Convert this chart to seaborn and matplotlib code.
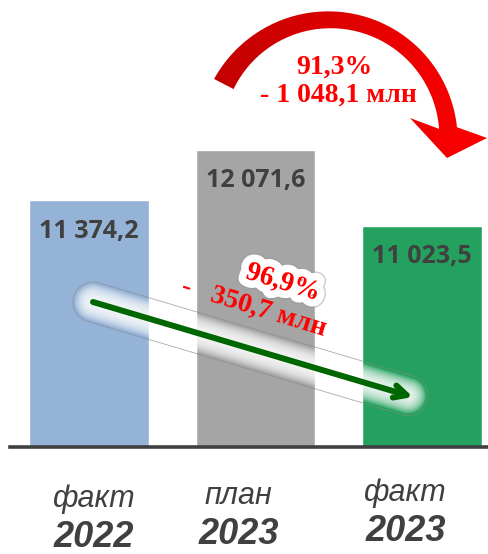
import numpy as np
import pandas as pd
import seaborn as sns
import matplotlib.pyplot as plt
import matplotlib.patheffects as pe
from matplotlib.patches import Polygon
from matplotlib.colors import LinearSegmentedColormap

# данные
labels_top = ['факт', 'план', 'факт']
labels_year = ['2022', '2023', '2023']
values = [11374.2, 12071.6, 11023.5]
colors = ['#95B3D7', '#A5A5A5', '#24A15E']


def ru(v):
    # 1048.1 -> "1 048,1"
    return f"{v:,.1f}".replace(",", " ").replace(".", ",")


df = pd.DataFrame({'cat': ['f22', 'p23', 'f23'], 'val': values})

sns.set_style("white")

fig = plt.figure(figsize=(4.88, 5.54), dpi=100)
ax = fig.add_axes([10 / 488, 107 / 554, 478 / 488, 447 / 554])

sns.barplot(data=df, x='cat', y='val', hue='cat', palette=colors,
            width=0.72, legend=False, ax=ax, saturation=1)

ax.set_ylim(8000, 14118)
ax.set_xlim(-0.474, 2.396)
ax.set_xticks([])
ax.set_yticks([])
ax.set_xlabel('')
ax.set_ylabel('')
sns.despine(ax=ax, left=True)
ax.spines['bottom'].set_color('#404040')
ax.spines['bottom'].set_linewidth(2.6)

# подписи значений внутри столбцов
for i, v in enumerate(values):
    ax.annotate(ru(v), xy=(i, v), xytext=(0, -22), textcoords='offset points',
                ha='center', va='center', fontsize=18, fontweight='bold',
                family='Open Sans', color='#404040')

# подписи категорий
offs = [0.03, -0.1, -0.1]
ys = [0.0, 0.006, 0.012]
for i in range(3):
    ax.text(i + offs[i], -0.116 + ys[i], labels_top[i], transform=ax.get_xaxis_transform(),
            ha='center', va='center', fontsize=22, style='italic',
            family='Liberation Sans', color='#404040')
    ax.text(i + offs[i], -0.202 + ys[i], labels_year[i], transform=ax.get_xaxis_transform(),
            ha='center', va='center', fontsize=26, style='italic', fontweight='bold',
            family='Liberation Sans', color='#404040')

# слой для стрелок (пиксели)
ov = fig.add_axes([0, 0, 1, 1], zorder=5)
ov.axis('off')

# зелёная стрелка с подсветкой
x0, y0, x1, y1 = 93, 302, 413, 397
for lw in np.linspace(26, 6, 14):
    ov.plot([x0, x1 - 5], [y0, y1 - 1.5], color='white', lw=lw, alpha=0.14,
            solid_capstyle='round')
# тонкий контур подсветки
d = np.array([x1 - 5 - x0, y1 - 1.5 - y0])
d = d / np.hypot(*d)
ang0 = np.arctan2(d[1], d[0])
R = 20
a1 = np.linspace(ang0 + np.pi / 2, ang0 + 3 * np.pi / 2, 30)
a2 = np.linspace(ang0 - np.pi / 2, ang0 + np.pi / 2, 30)
band = np.vstack([np.c_[x0 + R * np.cos(a1), y0 + R * np.sin(a1)],
                  np.c_[x1 - 5 + R * np.cos(a2), y1 - 1.5 + R * np.sin(a2)]])
ov.add_patch(Polygon(band, closed=True, facecolor='none', edgecolor='#888888',
                     lw=0.6, alpha=0.7))
ov.annotate('', xy=(x1, y1), xytext=(x0, y0),
            arrowprops=dict(arrowstyle='->,head_length=0.9,head_width=0.45',
                            lw=4.3, color='#006600', shrinkA=0, shrinkB=0))

# красная изогнутая стрелка
cx, cy, r = 329.5, 138.8, 119
th = np.radians(np.linspace(152.6, 5.2, 80))
t = np.linspace(0, 1, 80)
w = 22 - 18 * t + 14 * t ** 2
outer = np.c_[cx + (r + w / 2) * np.cos(th), cy - (r + w / 2) * np.sin(th)]
inner = np.c_[cx + (r - w / 2) * np.cos(th), cy - (r - w / 2) * np.sin(th)]
head = np.array([[487, 138], [447, 158], [410, 118]])
pts = np.vstack([outer, head, inner[::-1]])
poly = Polygon(pts, closed=True, facecolor='none', edgecolor='none')
ov.add_patch(poly)
cmap = LinearSegmentedColormap.from_list('rd', ['#C00000', '#FF0000'])
im = ov.imshow(np.linspace(0, 1, 256).reshape(1, -1), extent=(205, 490, 165, 5),
               cmap=cmap, aspect='auto')
im.set_clip_path(poly)

ov.set_xlim(0, 488)
ov.set_ylim(554, 0)

# проценты
pct_all = values[2] / values[1] * 100
diff_all = values[2] - values[1]
pct_yr = values[2] / values[0] * 100
diff_yr = values[2] - values[0]

ov.text(334, 67, f"{pct_all:.1f}%".replace(".", ","), ha='center', va='center',
        fontsize=20, fontweight='bold', family='Liberation Serif', color='red')
ov.text(338, 95, "- " + ru(abs(diff_all)) + " млн", ha='center', va='center',
        fontsize=20, fontweight='bold', family='Liberation Serif', color='red')

ov.text(283, 283, f"{pct_yr:.1f}%".replace(".", ","), ha='center', va='center',
        rotation=-17, rotation_mode='anchor',
        fontsize=20, fontweight='bold', family='Liberation Serif', color='red',
        path_effects=[pe.Stroke(linewidth=13, foreground='#999999', alpha=0.5),
                      pe.Stroke(linewidth=11, foreground='white'), pe.Normal()])
ov.text(254, 308, "-   " + ru(abs(diff_yr)) + " млн", ha='center', va='center',
        rotation=-17, rotation_mode='anchor',
        fontsize=20, fontweight='bold', family='Liberation Serif', color='red')

fig.savefig('out.png', dpi=100)
